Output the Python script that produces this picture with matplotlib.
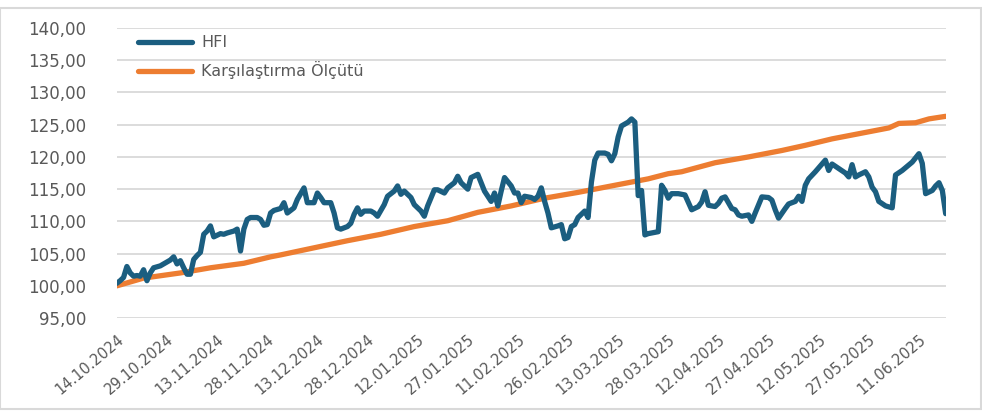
import numpy as np
import pandas as pd
import matplotlib
matplotlib.use('Agg')
import matplotlib.pyplot as plt
import matplotlib.dates as mdates
from matplotlib.patches import Rectangle

plt.rcParams['font.family'] = ['DejaVu Sans']

START = pd.Timestamp('2024-10-14')
END = pd.Timestamp('2025-06-19')

# HFI: gün (başlangıçtan itibaren) ve değer
hfi_days = [0, 1, 2, 3, 4, 5, 6, 7, 8, 9, 10, 11, 13, 14, 16, 17, 18, 19, 20, 21,
            22, 23, 24, 25, 26, 27, 28, 29, 31, 32, 33, 35, 36, 37, 38, 39, 40, 42,
            43, 44, 45, 46, 47, 49, 50, 51, 53, 54, 56, 57, 59, 60, 61, 62, 64, 65,
            66, 67, 69, 70, 71, 72, 73, 74, 76, 77, 78, 80, 81, 83, 84, 85, 86, 88,
            89, 91, 92, 93, 95, 96, 98, 99, 101, 102, 103, 105, 106, 108, 109, 110,
            112, 113, 114, 115, 116, 118, 119, 120, 121, 122, 124, 125, 126, 127,
            128, 129, 130, 132, 133, 134, 135, 136, 137, 138, 140, 141, 142, 143,
            144, 146, 147, 148, 149, 150, 151, 153, 154, 155, 156, 157, 158, 159,
            162, 163, 164, 165, 166, 168, 170, 172, 174, 175, 176, 177, 179, 180,
            181, 182, 184, 185, 186, 187, 189, 190, 191, 193, 195, 196, 197, 198,
            200, 201, 203, 204, 205, 206, 207, 209, 211, 212, 213, 214, 216, 218,
            219, 220, 221, 222, 224, 225, 226, 227, 228, 230, 232, 233, 235, 238,
            240, 241, 242, 244, 245, 246, 247, 248]
hfi_vals = [100.4, 100.8, 101.3, 103.0, 102.0, 101.5, 101.6, 101.5, 102.5, 100.8,
            102.0, 102.8, 103.1, 103.4, 104.0, 104.5, 103.4, 103.9, 102.8, 101.8,
            101.8, 104.1, 104.7, 105.2, 108.0, 108.5, 109.3, 107.6, 108.1, 108.0,
            108.2, 108.5, 108.8, 105.4, 108.8, 110.3, 110.6, 110.6, 110.3, 109.4,
            109.5, 111.3, 111.7, 112.0, 112.9, 111.3, 112.1, 113.4, 115.2, 112.9,
            112.9, 114.4, 113.7, 112.9, 112.9, 111.3, 109.0, 108.8, 109.2, 109.7,
            111.1, 112.1, 111.1, 111.6, 111.6, 111.3, 110.8, 112.6, 113.9, 114.7,
            115.5, 114.2, 114.7, 113.7, 112.6, 111.6, 110.8, 112.4, 114.9, 114.9,
            114.4, 115.2, 116.0, 117.0, 116.0, 115.0, 116.8, 117.3, 116.0, 114.7,
            113.1, 114.4, 112.4, 114.7, 116.8, 115.5, 114.4, 114.4, 112.9, 113.9,
            113.7, 113.4, 113.9, 115.2, 113.1, 111.3, 109.0, 109.3, 109.5, 107.3,
            107.5, 109.2, 109.5, 110.6, 111.6, 110.6, 116.1, 119.5, 120.6, 120.6,
            120.4, 119.4, 120.5, 123.1, 124.8, 125.4, 125.9, 125.4, 114.0, 114.8,
            107.9, 108.1, 108.4, 115.6, 114.8, 113.6, 114.3, 114.3, 114.1, 111.8,
            112.3, 113.0, 114.6, 112.5, 112.3, 112.8, 113.6, 113.8, 112.0, 111.8,
            111.0, 110.8, 111.0, 110.0, 111.3, 113.8, 113.7, 113.3, 111.8, 110.5,
            112.0, 112.7, 113.1, 113.9, 113.1, 115.6, 116.6, 117.7, 118.9, 119.5,
            117.9, 118.9, 118.2, 117.5, 116.9, 118.8, 116.9, 117.2, 117.7, 116.9,
            115.3, 114.6, 113.1, 112.4, 112.1, 117.2, 117.9, 119.2, 120.5, 119.0,
            114.3, 114.8, 115.5, 116.0, 114.8, 111.2]

# Karşılaştırma ölçütü
bench_days = [0, 8, 19, 28, 38, 46, 49, 59, 69, 79, 89, 99, 108, 118, 128, 138,
              149, 159, 165, 169, 179, 189, 199, 206, 214, 221, 226, 231, 234, 239,
              243, 248]
bench_vals = [100.0, 101.2, 102.0, 102.8, 103.5, 104.5, 104.8, 105.9, 107.0, 108.0,
              109.2, 110.1, 111.4, 112.4, 113.6, 114.5, 115.6, 116.6, 117.4, 117.7,
              119.1, 120.0, 121.0, 121.8, 122.8, 123.5, 124.0, 124.5, 125.2, 125.3,
              125.9, 126.3]

hfi_dates = START + pd.to_timedelta(hfi_days, unit='D')
bench_dates = START + pd.to_timedelta(bench_days, unit='D')

fig = plt.figure(figsize=(9.82, 4.12), dpi=100)
ax = fig.add_axes([0.119, 0.228, 0.844, 0.704])

ax.plot(bench_dates, bench_vals, color='#ED7D31', lw=3.8,
        solid_capstyle='round', label='Karşılaştırma Ölçütü')
ax.plot(hfi_dates, hfi_vals, color='#1B5E80', lw=3.8,
        solid_capstyle='round', solid_joinstyle='round', label='HFI')

ax.set_ylim(95, 140)
ax.set_yticks(np.arange(95, 141, 5))
ax.yaxis.set_major_formatter(plt.FuncFormatter(lambda v, _: f'{v:.2f}'.replace('.', ',')))
ax.set_xlim(START, END)
ax.set_xticks(pd.date_range(START, END, freq='15D'))
ax.xaxis.set_major_formatter(mdates.DateFormatter('%d.%m.%Y'))

ax.grid(axis='y', color='#D9D9D9', lw=1.3)
ax.set_axisbelow(True)
for s in ax.spines.values():
    s.set_visible(False)
ax.tick_params(axis='both', length=0, colors='#595959')
ax.tick_params(axis='y', labelsize=12, pad=22)
ax.tick_params(axis='x', labelsize=10.5, pad=10)
for lab in ax.get_xticklabels():
    lab.set_rotation(40)
    lab.set_ha('right')
    lab.set_rotation_mode('anchor')

handles, labels = ax.get_legend_handles_labels()
ax.legend(handles[::-1], labels[::-1], loc='upper left', bbox_to_anchor=(0.025, 0.975),
          frameon=False, fontsize=11.5, handlelength=3.4, handletextpad=0.6,
          labelspacing=0.7, borderpad=0, borderaxespad=0, labelcolor='#595959')

fig.patches.append(Rectangle((0.0, 0.008), 0.999, 0.972, transform=fig.transFigure,
                             fill=False, edgecolor='#D9D9D9', lw=1.5))

fig.savefig('out.png')
